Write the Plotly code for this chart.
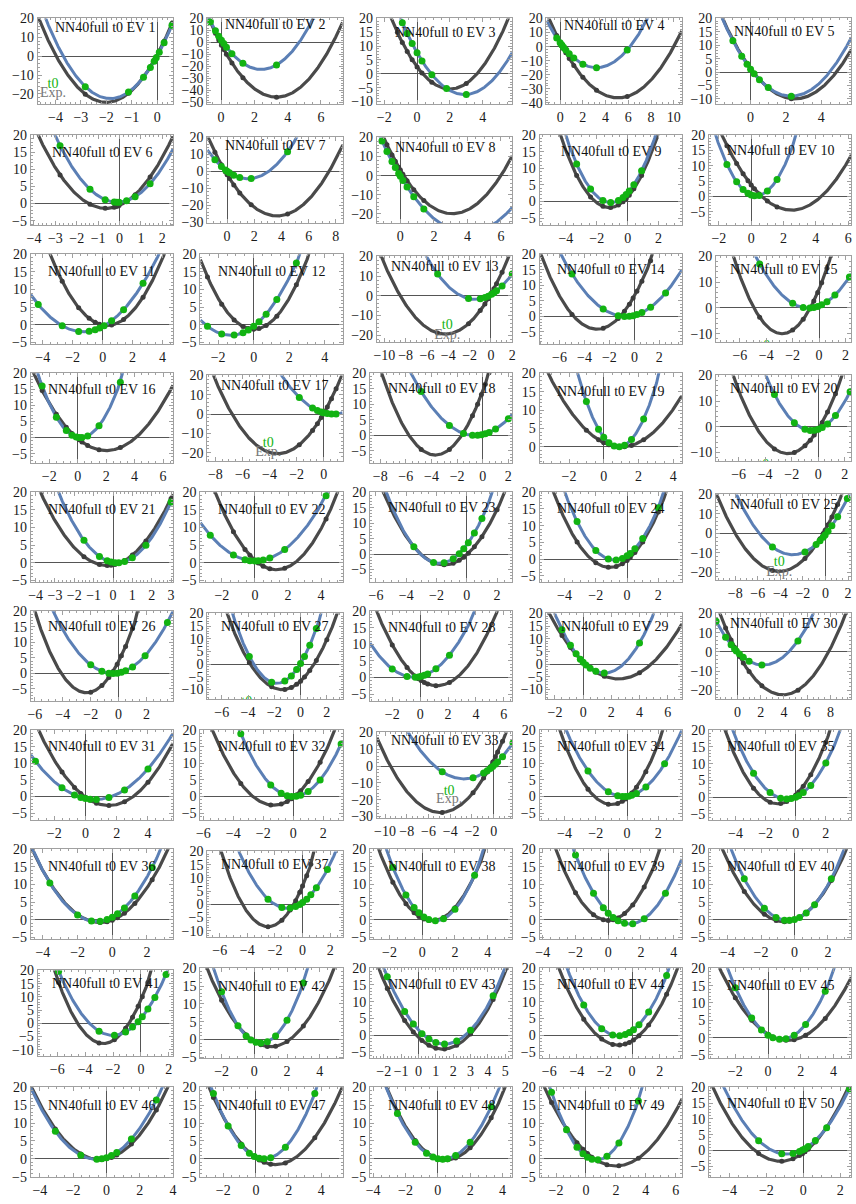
import numpy as np
import plotly.graph_objects as go

FIG_W, FIG_H = 856, 1204
N_COLS, N_ROWS = 5, 10

# plot ranges for the 50 eigenvector panels (top of every y range is 20)
X_MIN = [-4.7, -0.83, -2.45, -1.2, -1.95,
         -4.15, -1.46, -1.4, -5.7, -2.6,
         -4.8, -3.0, -10.7, -7.6, -7.8,
         -3.3, -8.6, -8.8, -3.7, -7.7,
         -4.25, -3.3, -6.4, -5.6, -9.7,
         -6.3, -7.1, -3.6, -2.6, -1.84,
         -3.5, -6.2, -10.75, -5.6, -5.75,
         -4.7, -6.9, -3.2, -4.2, -5.1,
         -7.4, -3.3, -2.8, -6.7, -3.6,
         -4.55, -3.4, -4.2, -3.1, -5.1]
X_MAX = [0.62, 7.3, 5.8, 10.7, 5.7,
         2.5, 8.5, 6.67, 3.5, 6.2,
         4.7, 5.0, 2.0, 3.8, 2.45,
         6.7, 1.4, 2.3, 4.5, 2.5,
         3.1, 5.3, 3.0, 3.5, 2.3,
         3.9, 3.2, 6.6, 7.0, 9.8,
         5.6, 3.3, 1.7, 3.5, 3.7,
         3.5, 2.9, 5.5, 4.5, 3.4,
         2.3, 5.4, 5.4, 3.6, 5.1,
         4.0, 5.3, 4.6, 6.4, 2.6]
Y_MIN = [-25.5, -51.5, -11, -41, -12,
         -6.4, -30.5, -25, -7.2, -9.5,
         -5.6, -5.6, -23.6, -9, -13.3,
         -8, -24.4, -9, -4.5, -13.5,
         -5.6, -5.6, -9.2, -7, -24,
         -9, -13.8, -7.2, -13.8, -24.7,
         -7.2, -7.2, -31, -7.2, -7,
         -5.6, -12.5, -5.6, -5.6, -5.6,
         -12.5, -5.3, -7, -7, -6,
         -5.2, -5.2, -5.2, -5.2, -8.5]
Y_MAX = 20
X_STEP = [1, 2, 2, 2, 2,
          1, 2, 2, 2, 2,
          2, 2, 2, 2, 2,
          2, 2, 2, 2, 2,
          1, 2, 2, 2, 2,
          2, 2, 2, 2, 2,
          2, 2, 2, 2, 2,
          2, 2, 2, 2, 2,
          2, 2, 1, 2, 2,
          2, 2, 2, 2, 2]
Y_STEP = [10, 10, 5, 10, 5,
          5, 10, 10, 5, 5,
          5, 5, 10, 5, 10,
          5, 10, 5, 5, 10,
          5, 5, 5, 5, 10,
          5, 5, 5, 5, 10,
          5, 5, 10, 5, 5,
          5, 5, 5, 5, 5,
          5, 5, 5, 5, 5,
          5, 5, 5, 5, 5]

# t0 fit: vertex position (H, M) and curvature K of each parabola
BLUE_H = [-1.85, 2.4, 2.9, 3.2, 2.3,
          -0.1, 1.54, 4.0, -1.1, 0.3,
          -1.3, -1.3, -1.5, -0.7, -0.8,
          0.2, 0.7, -0.6, 0.85, -0.5,
          0.2, 0.0, -1.8, -0.8, -2.9,
          -0.4, -1.8, -0.44, 1.5, 2.2,
          0.6, 0.0, -2.74, -0.2, -0.6,
          -0.9, -1.1, 0.8, 1.3, -0.4,
          -2.0, 0.4, 1.5, -1.0, 0.8,
          -0.6, 0.5, 0.3, 0.7, -0.89]
BLUE_M = [-22.5, -22.5, -7.5, -15, -9,
          0.4, -4.3, -30, -0.3, 0.2,
          -2, -3.0, -1.8, 0, 0,
          0, 0, 0, 0, -1.5,
          0, 0.5, -3, -0.3, -10.9,
          0, -7.5, 0.1, -3.5, -6.9,
          -0.9, 0, -7.6, 0, -0.6,
          -0.5, -1.5, -0.3, -1.2, -0.2,
          -4.6, -1.0, -2.7, -0.2, -0.5,
          -0.13, 0, -0.1, -0.3, -1.14]
BLUE_K = [6.6, 4.3, 1.8, 1.73, 1.9,
          2.3, 1.88, 1.85, 2.4, 3.17,
          0.86, 1.5, 1.05, 0.74, 1.25,
          2.2, 1.38, 0.8, 3.6, 1.8,
          2.2, 1.0, 1.85, 2.0, 1.23,
          1.08, 2.4, 1.03, 1.9, 1.4,
          0.8, 1.55, 1.05, 1.46, 1.6,
          1.5, 1.75, 2.25, 1.8, 1.75,
          1.6, 2.5, 1.85, 1.47, 1.9,
          1.28, 1.9, 1.63, 2.1, 1.81]

# experimental fit: vertex position (H, M) and curvature K
GRAY_H = [-2.0, 3.33, 2.0, 5.1, 2.5,
          -0.64, 3.68, 3.1, -1.2, 2.5,
          0.3, 0.0, -4.3, -3.0, -2.8,
          2.0, -3.4, -3.7, 1.0, -2.3,
          -0.3, 1.3, -1.5, -1.1, -4.1,
          -2.3, -1.4, 1.2, 2.5, 3.9,
          1.5, -1.3, -4.9, -1.0, -1.2,
          -0.7, -2.5, 0.6, 0.0, -0.6,
          -2.7, 1.0, 1.4, -1.0, 1.2,
          -0.4, 1.2, 0.5, 2.0, -1.23]
GRAY_M = [-24.5, -45.6, -5.5, -36.5, -10,
          -1.4, -26.2, -20, -1.8, -4.5,
          -0.2, -1.3, -19.5, -4.1, -10,
          -4, -20.5, -6.3, 0, -10.5,
          -0.8, -2, -3.5, -2.5, -19.5,
          -6.2, -10, -2.45, -5.8, -22.4,
          -2.7, -2.6, -27.6, -2.4, -2,
          -0.8, -8.5, -0.3, -0.2, -0.6,
          -7.7, -2.0, -4.2, -3.0, -0.8,
          -0.2, -1.6, -0.3, -2.0, -3.4]
GRAY_K = [6.3, 3.96, 2.0, 1.52, 1.8,
          2.14, 1.79, 2.38, 2.2, 1.32,
          1.39, 2.2, 1.1, 1.19, 2.2,
          0.92, 1.8, 1.5, 1.13, 1.8,
          1.75, 1.6, 1.46, 1.73, 1.28,
          1.9, 1.7, 1.2, 1.07, 1.44,
          1.12, 1.35, 1.3, 2.05, 1.8,
          1.35, 2.46, 1.9, 1.96, 1.5,
          2.26, 1.45, 1.77, 1.24, 1.2,
          1.2, 1.3, 1.5, 0.96, 1.73]

# deformation values at which both fits were sampled
SAMPLE_X = [
    [-2.83, -1.13, -0.54, -0.27, -0.12, -0.04, 0.08, 0.27, 0.58],
    [-0.64, -0.34, -0.14, 0.02, 0.16, 0.32, 0.65, 1.31, 3.33],
    [-1.2, -0.9, -0.6, -0.3, 0.0, 0.3, 0.9, 1.8, 3.0],
    [-0.3, 0.0, 0.15, 0.3, 0.5, 0.8, 1.2, 2.0, 3.2, 5.9],
    [-1.0, -0.5, -0.2, 0.0, 0.2, 0.5, 1.0, 2.3],
    [-2.78, -1.38, -0.67, -0.25, -0.13, -0.02, 0.33, 0.73, 1.43],
    [-0.9, -0.42, -0.12, 0.0, 0.17, 0.49, 0.93, 1.77, 4.45],
    [-1.1, -0.8, -0.5, -0.3, -0.1, 0.0, 0.15, 0.4, 0.8, 1.4],
    [-3.3, -2.4, -1.6, -1.1, -0.6, -0.3, -0.1, 0.1, 0.4, 0.9],
    [-1.5, -0.9, -0.5, -0.2, 0.0, 0.2, 0.5, 1.0, 1.6],
    [-4.3, -2.7, -1.6, -0.9, -0.5, -0.2, 0.1, 0.6, 1.4, 2.7],
    [-2.6, -1.8, -1.1, -0.6, -0.3, 0.0, 0.3, 0.7, 1.3, 2.4],
    [-5.0, -2.1, -1.0, -0.56, -0.25, 0.06, 0.28, 0.53, 1.05, 2.0],
    [-5.0, -2.5, -1.3, -0.8, -0.4, -0.1, 0.2, 0.6, 1.3, 2.5],
    [-4.5, -2.0, -1.2, -0.7, -0.4, -0.1, 0.2, 0.6, 1.2, 2.3],
    [-2.5, -1.5, -0.8, -0.4, -0.1, 0.1, 0.3, 0.7, 1.5, 3.0],
    [-1.8, -0.82, -0.46, -0.17, -0.02, 0.27, 0.58, 0.92],
    [-4.8, -2.6, -1.5, -0.8, -0.4, -0.1, 0.2, 0.5, 1.0, 2.0],
    [-1.0, -0.3, 0.0, 0.3, 0.6, 0.9, 1.2, 1.6, 2.3],
    [-3.3, -1.8, -1.0, -0.6, -0.3, 0.0, 0.3, 0.7, 1.3, 2.4],
    [-1.5, -0.7, -0.3, -0.1, 0.1, 0.3, 0.6, 1.0, 1.7, 3.0],
    [-2.7, -1.3, -0.6, -0.3, 0.0, 0.2, 0.5, 0.9, 1.8, 4.3],
    [-3.5, -2.2, -1.5, -0.9, -0.5, -0.2, 0.1, 0.5, 1.0, 2.0],
    [-3.2, -2.0, -1.2, -0.7, -0.3, 0.0, 0.2, 0.5, 1.0, 2.0],
    [-4.7, -1.82, -0.83, -0.48, -0.2, -0.03, 0.23, 0.57, 1.08, 1.94],
    [-2.0, -1.2, -0.7, -0.4, -0.1, 0.2, 0.5, 1.0, 1.9, 3.5],
    [-3.9, -2.2, -1.2, -0.7, -0.3, 0.0, 0.3, 0.7, 1.2, 2.0],
    [-2.0, -0.94, -0.35, -0.12, 0.07, 0.3, 0.54, 1.13, 2.1],
    [-1.5, -0.9, -0.5, -0.2, 0.0, 0.2, 0.5, 0.9, 1.5, 4.0],
    [-1.84, -1.02, -0.55, -0.25, -0.1, 0.17, 0.5, 1.0, 2.1, 5.2],
    [-3.2, -1.5, -0.7, -0.3, 0.0, 0.3, 0.7, 1.5, 2.5, 4.0],
    [-3.5, -1.5, -0.8, -0.4, -0.1, 0.2, 0.5, 1.0, 1.8, 3.2],
    [-4.74, -1.9, -0.93, -0.6, -0.32, -0.09, 0.15, 0.36, 0.81, 1.77],
    [-2.5, -1.2, -0.6, -0.3, -0.1, 0.1, 0.3, 0.6, 1.2, 2.4],
    [-2.8, -1.7, -1.0, -0.6, -0.3, 0.0, 0.2, 0.5, 1.0, 2.0],
    [-3.6, -2.0, -1.2, -0.7, -0.3, 0.0, 0.3, 0.7, 1.3, 2.3],
    [-2.5, -1.5, -0.9, -0.5, -0.2, 0.0, 0.3, 0.6, 1.0, 1.8],
    [-1.8, -1.0, -0.5, -0.2, 0.1, 0.4, 0.8, 1.3, 2.0, 3.2],
    [-2.0, -0.9, -0.3, 0.0, 0.3, 0.6, 1.0, 1.5, 2.2, 3.5],
    [-3.0, -1.8, -1.1, -0.6, -0.3, 0.0, 0.3, 0.7, 1.2, 2.2],
    [-5.9, -3.0, -1.9, -1.1, -0.6, -0.2, 0.1, 0.5, 1.0, 1.8],
    [-2.0, -1.0, -0.5, -0.2, 0.1, 0.4, 0.8, 1.3, 2.0, 3.0],
    [-1.8, -0.8, -0.3, 0.2, 0.6, 1.0, 1.5, 2.2, 3.0, 4.3],
    [-3.5, -2.2, -1.4, -0.9, -0.5, -0.2, 0.1, 0.5, 1.2, 2.5],
    [-2.0, -1.0, -0.4, 0.0, 0.3, 0.7, 1.1, 1.6, 2.3, 3.5],
    [-3.07, -1.54, -0.58, -0.28, 0.0, 0.3, 0.62, 1.5, 3.0],
    [-2.6, -1.7, -0.9, -0.4, -0.1, 0.2, 0.5, 0.9, 1.8, 3.6],
    [-2.5, -1.4, -0.7, -0.3, 0.0, 0.3, 0.6, 1.1, 2.0, 3.3],
    [-2.3, -1.3, -0.6, -0.2, 0.1, 0.4, 0.8, 1.4, 2.2, 3.5],
    [-2.42, -1.17, -0.56, -0.21, -0.05, 0.09, 0.26, 0.65, 1.26, 2.49],
]

# legend text anchored in data coordinates; only drawn where it falls
# (at least partly) inside the frame
LEGEND_X = -4.1
LEGEND_T0_Y = -15
LEGEND_EXP_Y = -20
T0_PANELS = [1, 13, 15, 17, 20, 25, 27, 33]
EXP_PANELS = [1, 13, 17, 25, 33]

BLUE = "#5b7fb5"
GRAY = "#4a4a4a"
GREEN = "#12b312"
FRAME = "#a0a0a0"
FONT = "Liberation Serif"


def parabola(x, h, m, k):
    return k * (np.asarray(x) - h) ** 2 + m


fig = go.Figure()
cell_w = FIG_W / N_COLS
cell_h = FIG_H / N_ROWS
layout = {}

for i in range(len(X_MIN)):
    n = i + 1
    r, c = divmod(i, N_COLS)
    pad = 34 if Y_MIN[i] <= -10 else 27
    left = c * cell_w + pad
    right = (c + 1) * cell_w - 0.6
    w = right - left
    h = 0.635 * w
    cy = r * cell_h + 55
    top, bottom = cy - h / 2, cy + h / 2

    xs, ys = ("x", "y") if n == 1 else (f"x{n}", f"y{n}")
    xk, yk = ("xaxis", "yaxis") if n == 1 else (f"xaxis{n}", f"yaxis{n}")

    common = dict(
        showgrid=False, showline=True, linecolor=FRAME, linewidth=1,
        mirror="allticks", ticks="inside", ticklen=4, tickcolor=FRAME,
        tickwidth=1, zeroline=True, zerolinecolor="#555555", zerolinewidth=1,
        tickfont=dict(family=FONT, size=14, color="#1a1a1a"),
        fixedrange=True,
    )
    xstep = X_STEP[i]
    ystep = Y_STEP[i]
    layout[xk] = dict(
        common, domain=[left / FIG_W, right / FIG_W], range=[X_MIN[i], X_MAX[i]],
        tick0=0, dtick=xstep, anchor=ys,
        minor=dict(ticks="inside", ticklen=2, tickcolor=FRAME,
                   dtick=xstep / (4 if xstep == 2 else 5), tick0=0),
    )
    layout[yk] = dict(
        common, domain=[1 - bottom / FIG_H, 1 - top / FIG_H], range=[Y_MIN[i], Y_MAX],
        tick0=0, dtick=ystep, anchor=xs,
        minor=dict(ticks="inside", ticklen=2, tickcolor=FRAME,
                   dtick=ystep / 5, tick0=0),
    )

    xx = np.linspace(X_MIN[i], X_MAX[i], 300)
    fig.add_trace(go.Scatter(x=xx, y=parabola(xx, GRAY_H[i], GRAY_M[i], GRAY_K[i]),
                             mode="lines", line=dict(color=GRAY, width=3.2),
                             xaxis=xs, yaxis=ys, hoverinfo="skip", showlegend=False))
    fig.add_trace(go.Scatter(x=xx, y=parabola(xx, BLUE_H[i], BLUE_M[i], BLUE_K[i]),
                             mode="lines", line=dict(color=BLUE, width=3),
                             xaxis=xs, yaxis=ys, hoverinfo="skip", showlegend=False))
    px = np.array(SAMPLE_X[i])
    fig.add_trace(go.Scatter(x=px, y=parabola(px, GRAY_H[i], GRAY_M[i], GRAY_K[i]),
                             mode="markers", marker=dict(color="#3c3c3c", size=5),
                             xaxis=xs, yaxis=ys, cliponaxis=True, showlegend=False))
    fig.add_trace(go.Scatter(x=px, y=parabola(px, BLUE_H[i], BLUE_M[i], BLUE_K[i]),
                             mode="markers", marker=dict(color=GREEN, size=7),
                             xaxis=xs, yaxis=ys, cliponaxis=True, showlegend=False))

    lx, ly, lt, lc = [], [], [], []
    if n in T0_PANELS:
        lx.append(LEGEND_X); ly.append(LEGEND_T0_Y); lt.append("t0"); lc.append(GREEN)
    if n in EXP_PANELS:
        lx.append(LEGEND_X); ly.append(LEGEND_EXP_Y); lt.append("Exp."); lc.append("#777777")
    if lx:
        fig.add_trace(go.Scatter(
            x=lx, y=ly, mode="text", text=lt,
            textfont=dict(family=FONT, size=14, color=lc),
            xaxis=xs, yaxis=ys, cliponaxis=True, showlegend=False, hoverinfo="skip"))

    fig.add_annotation(
        text=f"NN40full t0 EV {n}", xref=f"{xs} domain", yref=ys,
        x=0.5, y=15, xanchor="center", yanchor="middle", showarrow=False,
        font=dict(family=FONT, size=14, color="#111111"))

fig.update_layout(
    width=FIG_W, height=FIG_H, margin=dict(l=0, r=0, t=0, b=0),
    paper_bgcolor="white", plot_bgcolor="white", showlegend=False,
    **layout,
)

fig.write_html("out.html")
